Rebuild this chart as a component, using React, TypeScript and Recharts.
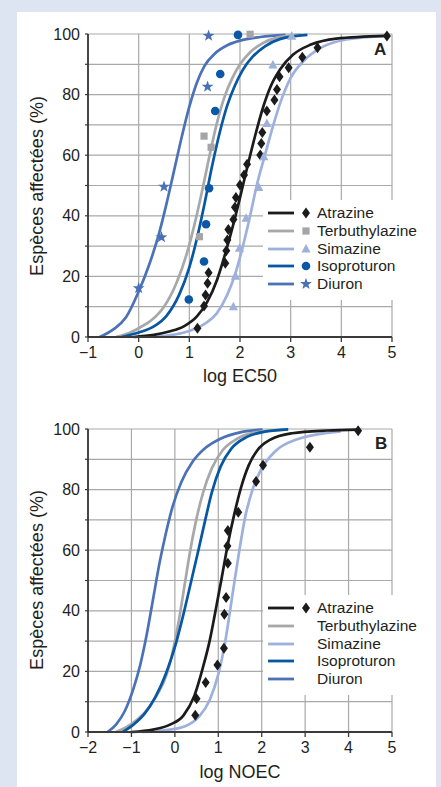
import React from 'react';
import { ComposedChart, Line, Scatter, XAxis, YAxis, CartesianGrid } from 'recharts';

const FONT = '"Liberation Sans", Arial, Helvetica, sans-serif';
const TEXT = '#231f20';

const seriesNames = ['Atrazine', 'Terbuthylazine', 'Simazine', 'Isoproturon', 'Diuron'];
const lineColors = ['#1b1b1b', '#a7a8aa', '#9db1dc', '#0757a3', '#4b72b7'];
const markerColors = ['#1b1b1b', '#a5a5a7', '#9db1dc', '#0a58a6', '#4a70b6'];

const xTicksA = [-1, 0, 1, 2, 3, 4, 5];
const xTicksB = [-2, -1, 0, 1, 2, 3, 4, 5];
const yTicks = [0, 10, 20, 30, 40, 50, 60, 70, 80, 90, 100];

// panel A : fitted curves, [log EC50, % species]
const atrazineCurveA = [[-0.1, 0], [0.3, 0.7], [0.6, 1.8], [0.9, 3.6], [1.15, 6.8], [1.35, 11.5], [1.55, 19], [1.7, 27], [1.85, 36], [2.0, 46], [2.15, 56.5], [2.3, 66.5], [2.45, 75.5], [2.6, 82.5], [2.8, 88.5], [3.05, 93.2], [3.4, 96.5], [3.9, 98.5], [4.88, 99.4]];
const terbuthylazineCurveA = [[-0.45, 0], [-0.2, 1.2], [0, 2.9], [0.25, 5.5], [0.5, 10], [0.75, 18], [0.95, 27.5], [1.1, 37], [1.25, 48], [1.4, 60], [1.55, 71], [1.7, 79.5], [1.85, 85.5], [2.0, 90], [2.2, 94], [2.45, 97], [2.75, 98.9], [3.2, 99.8]];
const simazineCurveA = [[0.3, 0], [0.7, 0.8], [1.0, 2], [1.3, 4.3], [1.55, 8], [1.75, 14], [1.9, 20.5], [2.05, 29.5], [2.2, 40], [2.33, 50], [2.5, 60.5], [2.65, 69.5], [2.8, 77.5], [3.0, 85.5], [3.25, 91], [3.6, 95.5], [4.1, 98.2], [4.9, 99.4]];
const isoproturonCurveA = [[-0.34, 0], [0, 1.5], [0.3, 3.5], [0.55, 7], [0.8, 14], [1.0, 23], [1.15, 32.5], [1.3, 44], [1.45, 56.5], [1.6, 67.5], [1.75, 76.5], [1.9, 83], [2.05, 88], [2.25, 92.5], [2.5, 96], [2.8, 98.4], [3.33, 99.7]];
const diuronCurveA = [[-0.77, 0], [-0.5, 2.5], [-0.25, 6.5], [0, 15], [0.2, 23.5], [0.4, 34], [0.55, 44], [0.7, 55], [0.85, 66], [1.0, 76], [1.15, 84], [1.3, 89.5], [1.5, 93.5], [1.75, 96.3], [2.0, 97.8], [2.4, 99], [2.9, 99.7]];

// panel A : observed species
const atrazinePtsA = [[1.16, 2.9], [1.29, 10.2], [1.32, 13.9], [1.36, 17.7], [1.38, 21.2], [1.71, 24.3], [1.73, 28.5], [1.75, 32], [1.77, 35.5], [1.87, 38.8], [1.9, 42.8], [1.92, 46], [2.0, 50.2], [2.08, 53.5], [2.14, 57], [2.4, 60.1], [2.42, 63.9], [2.44, 67.5], [2.53, 74.6], [2.68, 78.2], [2.73, 81.7], [2.78, 85.9], [2.96, 88.9], [3.23, 92.3], [3.53, 95.5], [4.9, 99.3]];
const terbuthylazinePtsA = [[1.2, 33.1], [1.29, 66.3], [1.43, 62.6], [2.2, 99.9]];
const simazinePtsA = [[1.87, 10], [1.91, 20.1], [1.99, 29.3], [2.12, 39.2], [2.37, 49.4], [2.47, 59.5], [2.53, 70.5], [2.65, 89.8], [3.02, 99.3]];
const isoproturonPtsA = [[0.99, 12.4], [1.29, 24.9], [1.33, 37.2], [1.39, 49.1], [1.51, 74.6], [1.61, 86.8], [1.96, 99.7]];
const diuronPtsA = [[0, 16.1], [0.45, 32.9], [0.5, 49.6], [1.36, 82.6], [1.38, 99.4]];

// panel B : fitted curves, [log NOEC, % species]
const atrazineCurveB = [[-1.0, 0], [-0.5, 0.8], [-0.1, 2.5], [0.2, 5.5], [0.45, 12], [0.65, 21.5], [0.8, 30], [0.95, 41], [1.08, 51], [1.22, 62], [1.37, 72], [1.52, 80.5], [1.7, 88], [1.9, 93], [2.2, 96.5], [2.7, 98.6], [3.5, 99.5], [4.22, 99.8]];
const terbuthylazineCurveB = [[-1.36, 0], [-1.1, 1.8], [-0.85, 4.3], [-0.6, 8], [-0.4, 12.5], [-0.2, 18.5], [-0.05, 26.5], [0.1, 37.5], [0.23, 49], [0.35, 59.5], [0.5, 70.5], [0.65, 79], [0.85, 87], [1.1, 93], [1.4, 96.5], [1.8, 98.7], [2.6, 99.9]];
const simazineCurveB = [[-0.75, 0], [-0.2, 0.6], [0.25, 2], [0.55, 5], [0.8, 10.5], [1.0, 19], [1.15, 29], [1.25, 38], [1.36, 48.5], [1.48, 59.5], [1.62, 71], [1.8, 80.5], [2.0, 87], [2.3, 92.5], [2.8, 96.5], [3.82, 99.2]];
const isoproturonCurveB = [[-1.2, 0], [-0.95, 2.5], [-0.7, 6], [-0.45, 11.5], [-0.2, 19.5], [0.0, 28], [0.2, 39], [0.38, 50], [0.55, 60.5], [0.7, 70], [0.85, 79], [1.05, 87.5], [1.3, 93.5], [1.65, 97.3], [2.1, 99.2], [2.61, 99.9]];
const diuronCurveB = [[-1.55, 0], [-1.35, 2.5], [-1.15, 7], [-0.95, 14.5], [-0.8, 22], [-0.65, 32], [-0.5, 44], [-0.35, 56], [-0.2, 66], [-0.05, 74.5], [0.15, 82.5], [0.4, 89], [0.7, 93.7], [1.05, 96.8], [1.5, 98.9], [2.02, 99.8]];

const atrazinePtsB = [[0.47, 5.5], [0.5, 11], [0.71, 16.3], [0.98, 22.1], [1.13, 27.6], [1.14, 38.9], [1.18, 44.4], [1.22, 55.7], [1.21, 61.4], [1.22, 66.5], [1.46, 72.5], [1.87, 82.7], [2.03, 88], [3.11, 94], [4.22, 99.4]];

const toXY = (pairs: number[][]) => pairs.map(([x, y]) => ({ x, y }));

function Marker({ kind, cx, cy, color }: { kind: number; cx: number; cy: number; color: string }) {
  if (kind === 0) return <polygon points={`${cx},${cy - 5.5} ${cx + 4},${cy} ${cx},${cy + 5.5} ${cx - 4},${cy}`} fill={color} />;
  if (kind === 1) return <rect x={cx - 3.6} y={cy - 3.6} width={7.2} height={7.2} fill={color} />;
  if (kind === 2) return <polygon points={`${cx},${cy - 5} ${cx + 4.6},${cy + 3.6} ${cx - 4.6},${cy + 3.6}`} fill={color} />;
  if (kind === 3) return <circle cx={cx} cy={cy} r={4.3} fill={color} />;
  const pts: string[] = [];
  for (let i = 0; i < 10; i++) {
    const r = i % 2 === 0 ? 6.2 : 2.5;
    const a = -Math.PI / 2 + (i * Math.PI) / 5;
    pts.push(`${cx + r * Math.cos(a)},${cy + r * Math.sin(a)}`);
  }
  return <polygon points={pts.join(' ')} fill={color} />;
}

const fmtX = (v: number) => (v < 0 ? '\u2212' + Math.abs(v) : String(v));
const fmtY = (v: number) => (v % 20 === 0 ? String(v) : '');

function Panel({ height, plotTop, plotBottom, xTicks, curves, points }: any) {
  return (
    <ComposedChart
      width={441}
      height={height}
      margin={{ top: plotTop, right: 441 - 392, bottom: height - plotBottom - 50, left: 88 - 50 }}
    >
      <CartesianGrid stroke="#a9a9a9" strokeWidth={1.2} />
      <XAxis
        type="number"
        dataKey="x"
        domain={[xTicks[0], 5]}
        ticks={xTicks}
        allowDataOverflow
        height={50}
        tickFormatter={fmtX}
        tickSize={5}
        tickMargin={5}
        axisLine={{ stroke: '#3a3a3a', strokeWidth: 2 }}
        tickLine={{ stroke: '#3a3a3a', strokeWidth: 1.3 }}
        tick={{ fill: TEXT, fontSize: 16, fontFamily: FONT }}
      />
      <YAxis
        type="number"
        dataKey="y"
        domain={[0, 100]}
        ticks={yTicks}
        width={50}
        tickFormatter={fmtY}
        tickSize={3}
        tickMargin={5}
        axisLine={{ stroke: '#1b1b1b', strokeWidth: 1.5 }}
        tickLine={{ stroke: '#3a3a3a', strokeWidth: 1.2 }}
        tick={{ fill: TEXT, fontSize: 16, fontFamily: FONT }}
      />
      {[4, 1, 3, 2, 0].map((i) => (
        <Line
          key={'l' + i}
          data={toXY(curves[i])}
          dataKey="y"
          type="monotone"
          stroke={lineColors[i]}
          strokeWidth={2.7}
          dot={false}
          isAnimationActive={false}
        />
      ))}
      {points.map((p: any) => (
        <Scatter
          key={'s' + p.kind}
          data={toXY(p.data)}
          dataKey="y"
          isAnimationActive={false}
          shape={(props: any) => <Marker kind={p.kind} cx={props.cx} cy={props.cy} color={markerColors[p.kind]} />}
        />
      ))}
    </ComposedChart>
  );
}

function LegendBox({ top, markers }: { top: number; markers: boolean[] }) {
  return (
    <div style={{ position: 'absolute', left: 263, top, width: 165, height: 100, background: '#fff' }}>
      {seriesNames.map((name, i) => (
        <div key={name} style={{ position: 'absolute', left: 0, top: 4 + i * 17.8, height: 18, display: 'flex', alignItems: 'center' }}>
          <svg width={54} height={18} style={{ display: 'block' }}>
            <line x1={5} x2={31} y1={9} y2={9} stroke={lineColors[i]} strokeWidth={2.8} />
            {markers[i] && <Marker kind={i} cx={43} cy={9} color={markerColors[i]} />}
          </svg>
          <span style={{ fontFamily: FONT, fontSize: 15.5, color: TEXT, lineHeight: '18px', whiteSpace: 'nowrap' }}>{name}</span>
        </div>
      ))}
    </div>
  );
}

export default function App() {
  const curvesA = [atrazineCurveA, terbuthylazineCurveA, simazineCurveA, isoproturonCurveA, diuronCurveA];
  const curvesB = [atrazineCurveB, terbuthylazineCurveB, simazineCurveB, isoproturonCurveB, diuronCurveB];
  const pointsA = [
    { kind: 0, data: atrazinePtsA },
    { kind: 1, data: terbuthylazinePtsA },
    { kind: 2, data: simazinePtsA },
    { kind: 3, data: isoproturonPtsA },
    { kind: 4, data: diuronPtsA },
  ];
  const pointsB = [{ kind: 0, data: atrazinePtsB }];
  const titleStyle = { fontFamily: FONT, fontSize: 18, fill: TEXT } as const;

  return (
    <div style={{ position: 'absolute', left: 0, top: 0, width: 441, height: 787, background: '#dce5f1', overflow: 'hidden' }}>
      <div style={{ position: 'absolute', left: 17, top: 12, width: 419, height: 775, background: '#fff' }} />
      <div style={{ position: 'absolute', left: 0, top: 0 }}>
        <Panel height={400} plotTop={34} plotBottom={337} xTicks={xTicksA} curves={curvesA} points={pointsA} />
      </div>
      <div style={{ position: 'absolute', left: 0, top: 390 }}>
        <Panel height={397} plotTop={39} plotBottom={342} xTicks={xTicksB} curves={curvesB} points={pointsB} />
      </div>
      <LegendBox top={200} markers={[true, true, true, true, true]} />
      <LegendBox top={595} markers={[true, false, false, false, false]} />
      <svg width={441} height={787} style={{ position: 'absolute', left: 0, top: 0, pointerEvents: 'none' }}>
        <text transform="translate(42.5,186) rotate(-90)" textAnchor="middle" style={titleStyle}>Espèces affectées (%)</text>
        <text transform="translate(42.5,580) rotate(-90)" textAnchor="middle" style={titleStyle}>Espèces affectées (%)</text>
        <text x={240} y={382} textAnchor="middle" style={titleStyle}>log EC50</text>
        <text x={240} y={778} textAnchor="middle" style={titleStyle}>log NOEC</text>
        <text x={374} y={55} style={{ fontFamily: FONT, fontSize: 17, fontWeight: 'bold', fill: TEXT }}>A</text>
        <text x={375} y={449} style={{ fontFamily: FONT, fontSize: 17, fontWeight: 'bold', fill: TEXT }}>B</text>
      </svg>
    </div>
  );
}
